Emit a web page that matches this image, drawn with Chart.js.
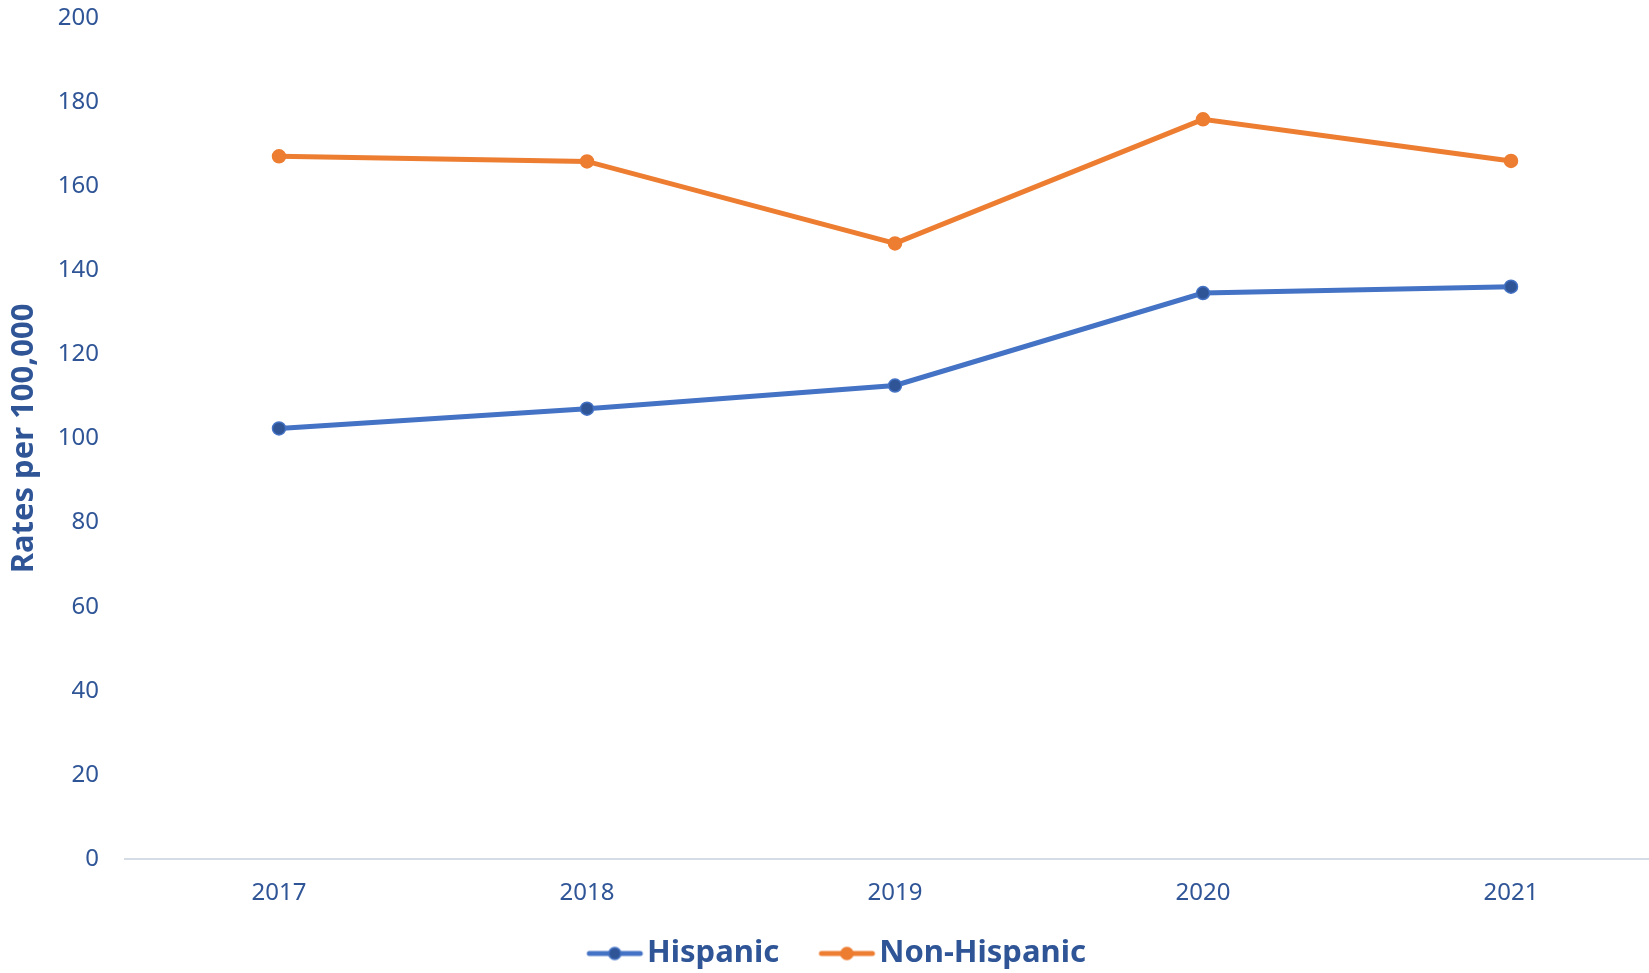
<!DOCTYPE html>
<html>
<head>
<meta charset="utf-8">
<script src="https://cdn.jsdelivr.net/npm/chart.js@4/dist/chart.umd.min.js"></script>
<style>
  html, body { margin: 0; padding: 0; background: #fff; overflow: hidden; }
  #wrap { position: relative; width: 1665px; height: 973px; margin-top: 6px; }
</style>
</head>
<body>
<div id="wrap"><canvas id="myLineChart"></canvas></div>
<script>
const years = ['2017', '2018', '2019', '2020', '2021'];
const hispanic = [102.4, 107.1, 112.6, 134.6, 136.1];
const nonHispanic = [167.1, 165.9, 146.4, 175.9, 166.0];
const yTicks = [0, 20, 40, 60, 80, 100, 120, 140, 160, 180, 200];

const textColor = '#2F5597';
const font = '"Noto Sans", sans-serif';

// line-with-dot icon for the legend (like the excel one)
// the canvas is wider than the line so the gaps come out right
function legendIcon(lineColor, dotColor, dotBorder) {
    const c = document.createElement('canvas');
    c.width = 80;
    c.height = 16;
    const g = c.getContext('2d');
    g.strokeStyle = lineColor;
    g.lineWidth = 5;
    g.lineCap = 'round';
    g.beginPath();
    g.moveTo(24, 8);
    g.lineTo(75, 8);
    g.stroke();
    g.beginPath();
    g.arc(49.5, 8, 6, 0, Math.PI * 2);
    g.fillStyle = dotColor;
    g.fill();
    g.lineWidth = 1.5;
    g.strokeStyle = dotBorder;
    g.stroke();
    return c;
}

const icons = [
    legendIcon('#4472C4', '#2F5597', '#4472C4'),
    legendIcon('#ED7D31', '#ED7D31', '#ED7D31')
];

const chartData = {
    labels: years,
    datasets: [{
        label: 'Hispanic',
        data: hispanic,
        borderColor: '#4472C4',
        backgroundColor: '#2F5597',
        pointBorderColor: '#4472C4',
        borderWidth: 5,
        pointRadius: 6.5,
        pointBorderWidth: 1.5,
        tension: 0
    }, {
        label: 'Non-Hispanic',
        data: nonHispanic,
        borderColor: '#ED7D31',
        backgroundColor: '#ED7D31',
        pointBorderColor: '#ED7D31',
        borderWidth: 5,
        pointRadius: 6.5,
        pointBorderWidth: 1.5,
        tension: 0
    }]
};

const options = {
    responsive: true,
    maintainAspectRatio: false,
    animation: false,
    layout: { autoPadding: false, padding: { top: 12, right: 0, left: 0, bottom: 0 } },
    plugins: {
        tooltip: { enabled: false },
        legend: {
            position: 'bottom',
            align: 'center',
            labels: {
                usePointStyle: true,
                pointStyleWidth: 52.5,
                generateLabels: chart => chart.data.datasets.map((ds, i) => ({
                    text: ds.label,
                    pointStyle: icons[i],
                    fontColor: textColor,
                    datasetIndex: i,
                    hidden: false,
                    lineWidth: 0
                })),
                color: textColor,
                font: { family: font, size: 31, weight: 'bold', lineHeight: 1 },
                padding: 32,
                boxHeight: 16
            }
        }
    },
    scales: {
        x: {
            offset: true,
            grid: { display: false, drawTicks: false },
            border: { display: true, color: '#D6DCE5', width: 2 },
            ticks: {
                color: textColor,
                font: { family: font, size: 24 },
                padding: 20
            },
            // pin the axis size so the plot sits where excel put it
            afterFit: axis => {
                axis.height = 47;
                axis.paddingLeft = 0;
                axis.paddingRight = 0;
            }
        },
        y: {
            min: 0,
            max: 200,
            afterBuildTicks: axis => { axis.ticks = yTicks.map(v => ({ value: v })); },
            grid: { display: false, drawTicks: false },
            border: { display: false },
            ticks: {
                color: textColor,
                font: { family: font, size: 24 },
                padding: 26
            },
            title: {
                display: true,
                text: 'Rates per 100,000',
                color: textColor,
                font: { family: font, size: 31, weight: 'bold' },
                padding: { top: 6, bottom: 10 }
            },
            afterFit: axis => {
                axis.width = 125;
                axis.paddingTop = 0;
                axis.paddingBottom = 0;
            }
        }
    }
};

const ctx = document.getElementById('myLineChart').getContext('2d');
const myLineChart = new Chart(ctx, {
    type: 'line',
    data: chartData,
    options: options
});
</script>
</body>
</html>
